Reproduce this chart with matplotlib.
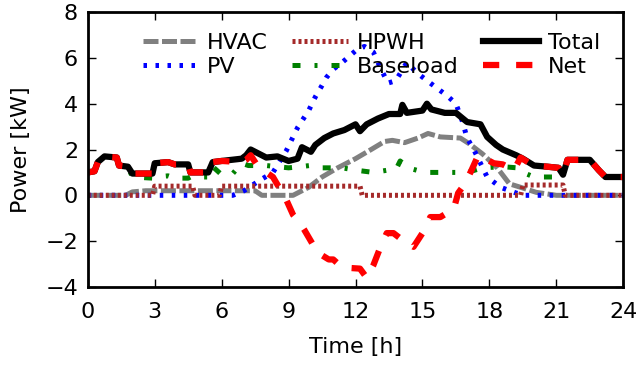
import matplotlib
matplotlib.use("Agg")
import matplotlib.pyplot as plt

# ---- data (hours, kW) ----
hvac_t = [0, 1.7, 2.0, 2.6, 7.5, 7.8, 9.2, 9.9, 10.5, 11.2, 12.0, 12.7, 13.3, 13.65,
          14.2, 14.8, 15.25, 15.8, 16.7, 17.1, 17.7, 18.35, 18.9, 19.4, 20.1, 21.0, 24]
hvac_v = [0, 0, 0.15, 0.2, 0.2, 0.0, 0.0, 0.35, 0.8, 1.2, 1.6, 2.0, 2.35, 2.4,
          2.3, 2.5, 2.7, 2.55, 2.5, 2.25, 1.8, 1.2, 0.5, 0.35, 0.13, 0.0, 0]

pv_t = [0, 6.5, 7.0, 7.7, 8.3, 8.9, 9.4, 9.9, 10.2, 10.5, 10.7, 11.0, 11.4, 12.05,
        12.4, 12.8, 13.1, 13.45, 13.8, 14.3, 14.75, 15.35, 16.1, 16.5, 16.8, 17.0,
        17.3, 17.9, 18.5, 19.2, 19.6, 24]
pv_v = [0, 0, 0.2, 0.65, 1.0, 1.95, 2.95, 3.7, 4.3, 4.8, 5.15, 5.5, 5.8, 6.35,
        6.5, 6.25, 5.6, 4.9, 5.0, 5.8, 5.35, 4.9, 4.35, 4.0, 3.2, 2.5,
        2.0, 0.8, 0.35, 0.1, 0, 0]

hpwh_t = [0, 2.9, 3.0, 4.7, 4.8, 5.9, 6.0, 12.2, 12.3, 19.4, 19.5, 21.3, 21.4, 24]
hpwh_v = [0, 0, 0.4, 0.4, 0, 0, 0.4, 0.4, 0, 0, 0.45, 0.45, 0, 0]

base_t = [0, 0.3, 0.45, 0.75, 1.3, 1.4, 1.8, 2.0, 2.9, 3.0, 3.6, 3.9, 4.5, 4.6, 5.4,
          5.6, 6.0, 6.5, 6.9, 7.2, 8.0, 8.5, 9.0, 9.5, 9.95, 10.5, 11.4, 12.0, 12.8,
          13.45, 13.8, 14.0, 14.35, 15.1, 16.3, 17.0, 17.7, 18.6, 19.25, 19.5, 20.0,
          20.9, 21.3, 21.5, 22.5, 22.9, 23.2, 24]
base_v = [1.0, 1.05, 1.45, 1.7, 1.65, 1.3, 1.25, 0.8, 0.75, 0.8, 0.85, 0.75, 0.75, 0.8, 0.8,
          1.25, 0.9, 0.95, 1.4, 1.3, 1.3, 1.25, 1.2, 1.25, 1.3, 1.2, 1.2, 1.1, 1.0,
          1.1, 1.1, 1.5, 1.2, 1.0, 1.0, 1.0, 1.2, 1.25, 1.2, 1.0, 0.8,
          0.8, 0.9, 1.55, 1.55, 1.1, 0.8, 0.8]

total_t = [0, 0.3, 0.45, 0.75, 1.3, 1.4, 1.8, 2.0, 2.9, 3.0, 3.6, 3.9, 4.5, 4.6, 5.4,
           5.6, 6.0, 6.9, 7.1, 7.3, 7.6, 8.0, 8.5, 9.0, 9.4, 9.6, 10.0, 10.2, 10.6,
           11.0, 11.5, 12.0, 12.2, 12.5, 13.0, 13.5, 14.0, 14.1, 14.3, 15.0, 15.2,
           15.4, 16.0, 16.5, 17.0, 17.6, 17.9, 18.3, 18.6, 19.2, 19.5, 20.0, 20.6,
           21.1, 21.3, 21.5, 22.5, 22.9, 23.2, 24]
total_v = [1.0, 1.05, 1.45, 1.7, 1.65, 1.3, 1.25, 0.95, 0.95, 1.4, 1.45, 1.35, 1.35, 1.0, 1.0,
           1.45, 1.5, 1.6, 1.75, 2.0, 1.85, 1.65, 1.7, 1.5, 1.6, 2.1, 1.9, 2.2, 2.5,
           2.7, 2.85, 3.1, 2.8, 3.1, 3.35, 3.55, 3.55, 3.95, 3.6, 3.7, 4.0,
           3.75, 3.6, 3.6, 3.2, 3.1, 2.55, 2.2, 2.0, 1.75, 1.6, 1.3, 1.25,
           1.2, 0.9, 1.55, 1.55, 1.1, 0.8, 0.8]

net_t = [0, 0.3, 0.45, 0.75, 1.3, 1.4, 1.8, 2.0, 2.9, 3.0, 3.6, 3.9, 4.5, 4.6, 5.4,
         5.6, 6.0, 6.9, 7.1, 7.3, 7.6, 8.0, 8.3, 8.6, 8.9, 9.2, 9.5, 9.7, 10.0, 10.3,
         10.8, 11.0, 11.4, 12.2, 12.5, 12.8, 13.1, 13.4, 13.7, 14.1, 14.6, 15.1, 15.35,
         15.8, 16.4, 16.6, 16.9, 17.2, 17.5, 17.7, 18.2, 18.6, 19.1, 19.4, 19.8, 20.0,
         20.6, 21.1, 21.3, 21.5, 22.5, 22.9, 23.2, 24]
net_v = [1.0, 1.05, 1.45, 1.7, 1.65, 1.3, 1.25, 0.95, 0.95, 1.4, 1.45, 1.35, 1.35, 1.0, 1.0,
         1.45, 1.5, 1.45, 1.55, 1.75, 1.3, 1.0, 0.8, 0.3, -0.2, -0.85, -1.2, -1.5, -2.0, -2.5,
         -2.8, -2.8, -3.15, -3.2, -3.6, -3.05, -2.3, -1.65, -1.65, -1.95, -2.25, -1.5, -0.95,
         -0.95, -0.6, 0.1, 0.5, 1.1, 1.75, 1.65, 1.4, 1.35, 1.1, 1.65, 1.4, 1.3,
         1.25, 1.2, 0.9, 1.55, 1.55, 1.1, 0.8, 0.8]

x_ticks = [0, 3, 6, 9, 12, 15, 18, 21, 24]
y_ticks = [-4, -2, 0, 2, 4, 6, 8]

plt.rcParams['font.family'] = ['DejaVu Sans']

fig = plt.figure(figsize=(6.36, 3.66), dpi=100)
ax = fig.add_axes([0.138, 0.216, 0.842, 0.751])

ax.plot(hvac_t, hvac_v, color='gray', lw=3.6, ls=(0, (3.0, 0.7)), label='HVAC')
ax.plot(pv_t, pv_v, color='blue', lw=3.6, ls=(0, (0.7, 1.7)), label='PV')
ax.plot(hpwh_t, hpwh_v, color='brown', lw=3.6, ls=(0, (0.6, 0.6)), label='HPWH')
ax.plot(base_t, base_v, color='green', lw=3.6, ls=(0, (1.6, 2.8, 0.6, 2.8)), label='Baseload')
ax.plot(total_t, total_v, color='black', lw=4.5, label='Total')
ax.plot(net_t, net_v, color='red', lw=4.5, ls=(0, (2.6, 2.7)), label='Net')

ax.set_xlim(0, 24)
ax.set_ylim(-4, 8)
ax.set_xticks(x_ticks)
ax.set_yticks(y_ticks)
ax.tick_params(direction='in', top=True, right=True, length=6, width=1, labelsize=16)
ax.tick_params(axis='x', pad=11)
ax.tick_params(axis='y', pad=7)
for s in ax.spines.values():
    s.set_linewidth(2)
ax.set_xlabel('Time [h]', fontsize=16, labelpad=11)
ax.set_ylabel('Power [kW]', fontsize=16, labelpad=10)

ax.legend(loc='upper left', bbox_to_anchor=(0.086, 0.957), ncol=3, frameon=False,
          fontsize=16, handlelength=2.5, handletextpad=0.4, columnspacing=1.1,
          labelspacing=0.2, borderaxespad=0.0)

fig.savefig('out.png', dpi=100)
